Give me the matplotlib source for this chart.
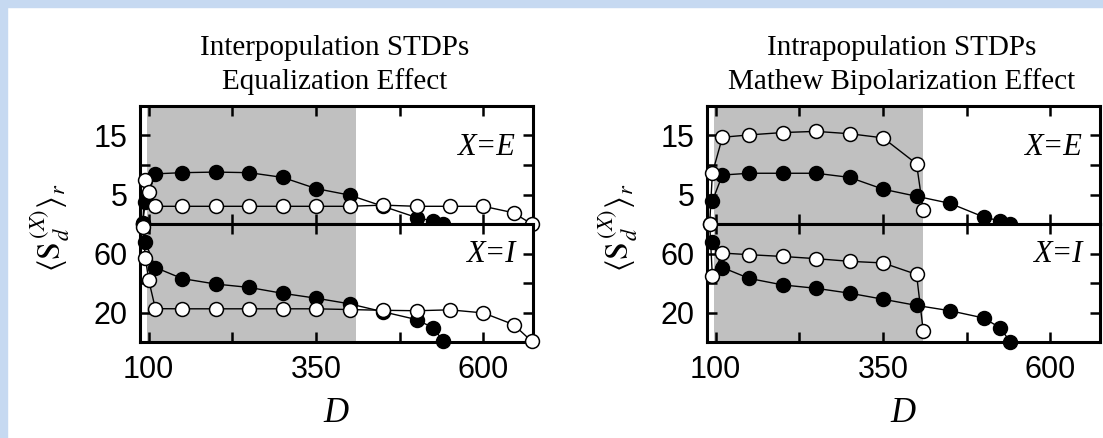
import matplotlib

matplotlib.use("Agg")
import matplotlib.pyplot as plt
from matplotlib.patches import Rectangle

# Interpopulation STDPs (left)
d_fill_inter = [91, 95, 110, 150, 200, 250, 300, 350, 400, 450, 500, 525, 540]
e_fill_inter = [0.2, 3.8, 8.5, 8.7, 8.8, 8.7, 7.9, 6.0, 4.9, 3.0, 1.1, 0.5, 0.0]
i_fill_inter = [80, 67.7, 50.5, 43.0, 39.3, 37.0, 33.0, 29.7, 25.9, 20.5, 15.2, 9.6, 0.5]

d_open_inter = [91, 95, 100, 110, 150, 200, 250, 300, 350, 400, 450, 500, 550, 600, 645, 672]
e_open_inter = [0.0, 7.4, 5.5, 3.0, 3.0, 3.0, 3.0, 3.0, 3.0, 3.0, 3.2, 3.0, 3.0, 3.0, 1.9, 0.0]
i_open_inter = [78, 57, 42, 22.6, 22.5, 22.5, 22.5, 22.5, 22.5, 22.0, 21.5, 21.2, 21.8, 19.7, 11.8, 0.5]

# Intrapopulation STDPs (right)
d_fill_intra = [95, 110, 150, 200, 250, 300, 350, 400, 450, 500, 525, 540]
e_fill_intra = [3.9, 8.3, 8.6, 8.6, 8.6, 7.9, 5.9, 4.7, 3.5, 1.2, 0.5, 0.0]
i_fill_intra = [67.7, 50.5, 43.1, 38.7, 36.4, 33.1, 29.0, 24.8, 21.2, 16.3, 9.6, 0.0]

d_open_intra = [91, 95, 110, 150, 200, 250, 300, 350, 400, 410]
e_open_intra = [0.0, 8.6, 14.7, 15.1, 15.5, 15.7, 15.3, 14.6, 10.2, 2.3]
i_open_intra = [80, 44.7, 60.3, 59.2, 58.0, 56.5, 54.7, 53.6, 45.8, 7.4]

shade_range = (97, 410)
x_ticks = [100, 225, 350, 475, 600]
x_labels = ["100", "", "350", "", "600"]
e_ticks = [5, 10, 15]
e_labels = ["5", "", "15"]
i_ticks = [20, 40, 60]
i_labels = ["20", "", "60"]

W, H = 1103, 438
plt.rcParams["mathtext.fontset"] = "stix"
SANS = "Liberation Sans"
SERIF = "Liberation Serif"


def fx(px):
    return px / W


def fy(py):
    return 1 - py / H


def style_axis(ax, yticks, ylabels, ylim, show_x):
    ax.set_xlim(87, 674)
    ax.set_ylim(*ylim)
    ax.axvspan(*shade_range, color="#c0c0c0", lw=0, zorder=0)
    ax.set_xticks(x_ticks)
    ax.set_xticklabels(x_labels if show_x else [""] * len(x_ticks))
    ax.set_yticks(yticks)
    ax.set_yticklabels(ylabels)
    ax.tick_params(direction="in", top=True, right=True, length=7, width=1.8,
                   labelsize=22, pad=9)
    for lab in ax.get_xticklabels() + ax.get_yticklabels():
        lab.set_family(SANS)
    for sp in ax.spines.values():
        sp.set_linewidth(2.2)


def plot_series(ax, d, vals, filled):
    ax.plot(d, vals, color="black", lw=1, marker="o", ms=10,
            mfc="black" if filled else "white", mec="black", mew=1.1,
            clip_on=False, zorder=4 if not filled else 3)


def draw_panel(fig, left_px, title, subtitle, fill, opened, label_x):
    width = 393 / W
    ax_e = fig.add_axes([fx(left_px), fy(224), width, 118 / H])
    ax_i = fig.add_axes([fx(left_px), fy(342), width, 118 / H])
    style_axis(ax_e, e_ticks, e_labels, (0, 20), False)
    style_axis(ax_i, i_ticks, i_labels, (0, 80), True)

    d_f, e_f, i_f = fill
    d_o, e_o, i_o = opened
    plot_series(ax_e, d_f, e_f, True)
    plot_series(ax_e, d_o, e_o, False)
    plot_series(ax_i, d_f, i_f, True)
    plot_series(ax_i, d_o, i_o, False)

    ax_e.text(0.955, 0.65, "X=E", transform=ax_e.transAxes, ha="right", va="center",
              family=SERIF, style="italic", fontsize=22)
    ax_i.text(0.955, 0.74, "X=I", transform=ax_i.transAxes, ha="right", va="center",
              family=SERIF, style="italic", fontsize=22)
    fig.text(fx(left_px + 196), fy(413), "D", ha="center", va="center",
             family=SERIF, style="italic", fontsize=25)

    cx = left_px + 195
    fig.text(fx(cx), fy(48), title, ha="center", va="center", family=SERIF, fontsize=21)
    fig.text(fx(cx), fy(82), subtitle, ha="center", va="center", family=SERIF, fontsize=21)
    fig.text(fx(label_x), fy(228), r"$\langle \mathrm{S}_{d}^{\,(X)}\rangle_{r}$",
             rotation=90, ha="center", va="center", fontsize=23)


fig = plt.figure(figsize=(W / 100, H / 100), dpi=100)
fig.patches.append(Rectangle((0, fy(7)), 1, 7 / H, transform=fig.transFigure,
                             color="#c6d9f1", zorder=-1))
fig.patches.append(Rectangle((0, 0), fx(7), 1, transform=fig.transFigure,
                             color="#c6d9f1", zorder=-1))

draw_panel(fig, 140, "Interpopulation STDPs", "Equalization Effect",
           (d_fill_inter, e_fill_inter, i_fill_inter),
           (d_open_inter, e_open_inter, i_open_inter), 50)
draw_panel(fig, 707, "Intrapopulation STDPs", "Mathew Bipolarization Effect",
           (d_fill_intra, e_fill_intra, i_fill_intra),
           (d_open_intra, e_open_intra, i_open_intra), 618)

fig.savefig("out.png", dpi=100)
